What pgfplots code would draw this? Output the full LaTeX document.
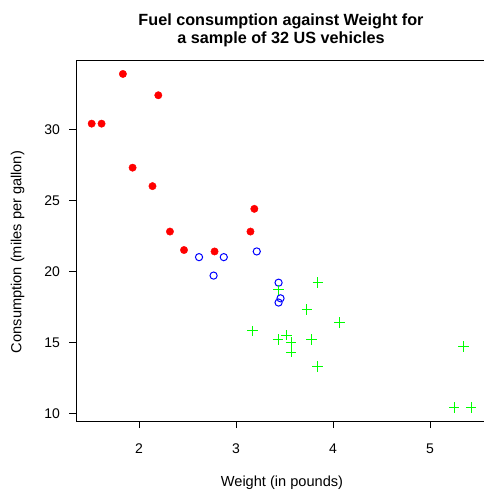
\documentclass[border=0pt]{standalone}
\usepackage{fontspec}
\setmainfont{Liberation Sans}
\usepackage{pgfplots}
\pgfplotsset{compat=1.18}
\definecolor{rred}{RGB}{255,0,0}
\definecolor{rblue}{RGB}{0,0,255}
\definecolor{rgreen}{RGB}{0,255,0}
\begin{document}
\begin{tikzpicture}[x=1pt,y=1pt]
\begin{axis}[
  scale only axis, width=409.7pt, height=360.4pt,
  xmin=1.3566, xmax=5.5804, ymin=9.46, ymax=34.84,
  axis line style={black, line width=0.8pt},
  tick style={black, line width=0.8pt},
  tick align=outside, major tick length=7pt,
  xtick pos=left, ytick pos=left,
  xtick={2,3,4,5}, ytick={10,15,20,25,30},
  /pgf/number format/assume math mode=true,
  ticklabel style={font=\fontsize{14}{16}\selectfont},
  xticklabel style={yshift=-12pt},
  yticklabel style={xshift=-6pt},
  clip=false,
]
\coordinate (LL) at (axis cs:1.3566,9.46);
\addplot[only marks, mark=*, mark size=3.7pt, draw=rred, fill=rred, mark options={fill=rred, draw=rred}] coordinates {
(2.320,22.8) (3.190,24.4) (3.150,22.8) (2.200,32.4) (1.615,30.4) (1.835,33.9)
(2.465,21.5) (1.935,27.3) (2.140,26.0) (1.513,30.4) (2.780,21.4)
};
\addplot[only marks, mark=o, mark size=3.6pt, draw=rblue, mark options={draw=rblue, line width=1pt}] coordinates {
(2.620,21.0) (2.875,21.0) (3.215,21.4) (3.460,18.1) (3.440,19.2) (3.440,17.8) (2.770,19.7)
};
\addplot[only marks, mark=+, mark size=5.2pt, draw=rgreen, mark options={draw=rgreen, line width=1pt}] coordinates {
(3.440,18.7) (3.570,14.3) (4.070,16.4) (3.730,17.3) (3.780,15.2) (5.250,10.4)
(5.424,10.4) (5.345,14.7) (3.520,15.5) (3.435,15.2) (3.840,13.3) (3.845,19.2)
(3.170,15.8) (3.570,15.0)
};
\end{axis}
\node[font=\bfseries\fontsize{16.2}{18}\selectfont, align=center] at ([shift={(204.5,391)}]LL) {Fuel consumption against Weight for\\a sample of 32 US vehicles};
\node[font=\fontsize{14.6}{16}\selectfont] at ([shift={(205.5,-62)}]LL) {Weight (in pounds)};
\node[font=\fontsize{14.6}{16}\selectfont, rotate=90] at ([shift={(-59,169)}]LL) {Consumption (miles per gallon)};
\pgfresetboundingbox
\path[use as bounding box] ([shift={(-76.5,-72)}]LL) rectangle ([shift={(406.5,421)}]LL);
\end{tikzpicture}
\end{document}
